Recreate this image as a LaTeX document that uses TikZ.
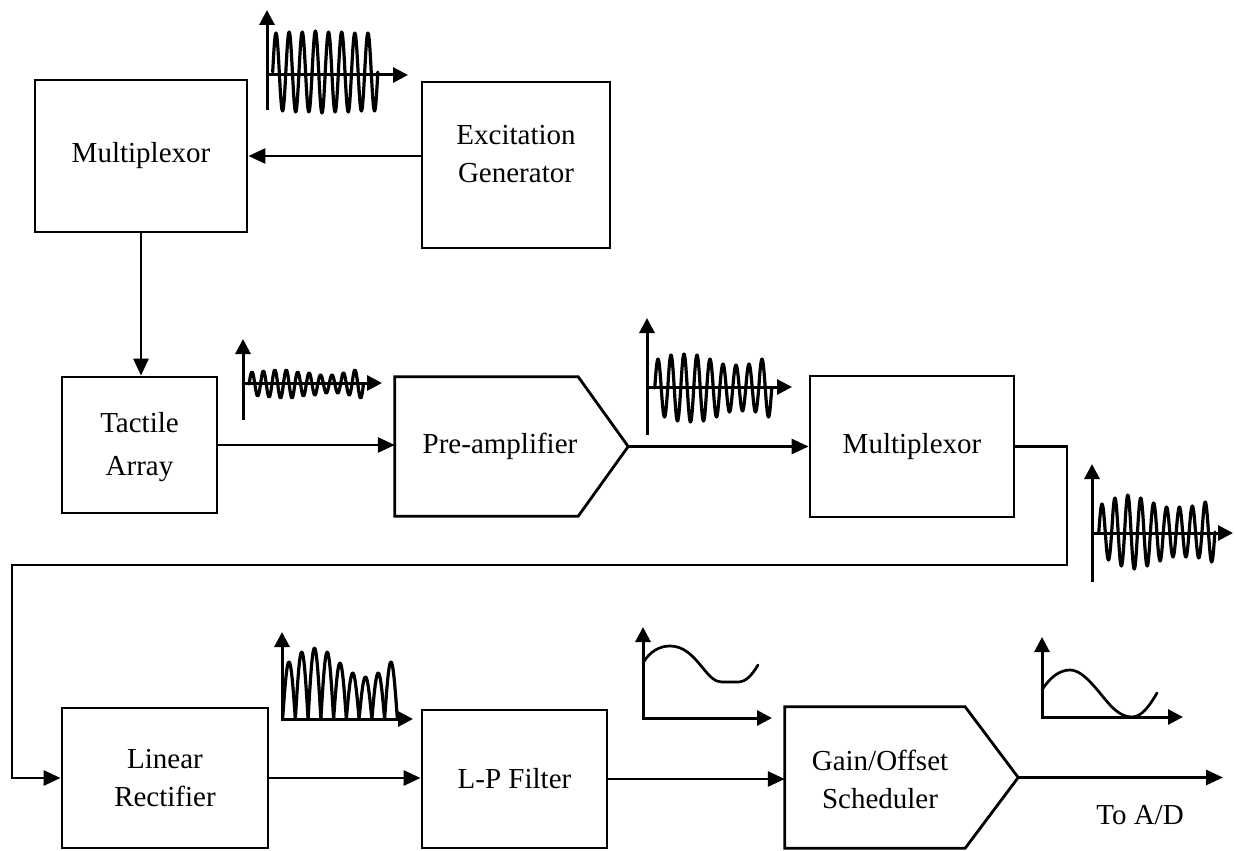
\documentclass[tikz,border=0pt]{standalone}
\usepackage{fontspec}
\setmainfont{Liberation Serif}
\usetikzlibrary{arrows.meta,calc}
\begin{document}
\begin{tikzpicture}[x=1pt,y=-1pt,
  box/.style={draw, line width=2.8pt, inner sep=0pt, align=center, font=\fontsize{29}{38}\selectfont},
  body/.style={inner sep=0pt, align=center, font=\fontsize{29}{38}\selectfont},
  lbl/.style={inner sep=0pt, align=center, font=\fontsize{29}{38}\selectfont},
  outline/.style={line width=2.8pt, line join=miter},
  arr/.style={line width=2.8pt, -{Triangle[length=17pt,width=15pt]}},
  ax/.style={line width=3pt, -{Triangle[length=15pt,width=15pt]}},
  axx/.style={line width=3pt, {Triangle[length=15pt,width=15pt]}-{Triangle[length=15pt,width=15pt]}},
  wave/.style={line width=3.2pt, line cap=round, line join=round},
  curve/.style={line width=2.7pt, line cap=round, line join=round}]
\useasboundingbox (0,0) rectangle (1235,851);

% blocks
\node[box, minimum width=212pt, minimum height=152pt] (mux1) at (141,156) {Multiplexor};
\node[box, minimum width=188pt, minimum height=166pt] (exc) at (516,165) {};
\node[lbl] (exctxt) at (516,154) {Excitation\\Generator};
\node[box, minimum width=155pt, minimum height=136pt] (tact) at (139.5,445) {};
\node[lbl] (tacttxt) at (139.5,447) {Tactile\\[5pt]Array};
\node[body, minimum width=183pt, minimum height=139pt] (pre) at (486.5,446.5) {};
\coordinate (pretip) at ($(pre.east)+(50,0)$);
\draw[outline] (pre.north west) -- (pre.north east) -- (pretip) -- (pre.south east) -- (pre.south west) -- cycle;
\node[lbl] (pretxt) at (500,446.5) {Pre-amplifier};
\node[box, minimum width=204pt, minimum height=141pt] (mux2) at (912,446.5) {Multiplexor};
\node[box, minimum width=206pt, minimum height=140pt] (lin) at (165,778) {Linear\\Rectifier};
\node[box, minimum width=185pt, minimum height=138pt] (lp) at (514.5,779) {L-P Filter};
\node[body, minimum width=180pt, minimum height=141pt] (gain) at (875,777.5) {};
\node[lbl] (gaintxt) at (880,779) {Gain/Offset\\Scheduler};
\coordinate (gaintip) at ($(gain.east)+(53,0)$);
\draw[outline] (gain.north west) -- (gain.north east) -- (gaintip) -- (gain.south east) -- (gain.south west) -- cycle;

% connectors
\draw[arr] (exc.west |- mux1.east) -- (mux1.east);
\draw[arr] (mux1.south) -- (mux1.south |- tact.north);
\draw[arr] (tact.east) -- (tact.east -| pre.west);
\draw[arr] (pretip) -- (mux2.west);
\coordinate (c1) at (1067,565);
\coordinate (c2) at (12,565);
\draw[arr, line join=miter] (mux2.east) -| (c1) -- (c2) |- (lin.west);
\draw[arr] (lin.east) -- (lin.east -| lp.west);
\draw[arr] (lp.east) -- (lp.east -| gain.west);
\coordinate (out) at (1223,777.5);
\draw[arr] (gaintip) -- (out);
\node[lbl] (toad) at (1140,815) {To A/D};

% waveform 1 (excitation)
\draw[ax] (267,110) -- (267,10);
\draw[ax] (267,75) -- (408,75);
\foreach \a [count=\i from 0] in {39,40,40,41,40,40,39,39} {
  \draw[wave] plot[domain=0:1, samples=25, smooth] ({272.7+13.14*(\i+\x)}, {72-\a*sin(360*\x)});
}

% waveform 2 (tactile array output)
\draw[ax] (243,420) -- (243,339);
\draw[ax] (243,383) -- (382,383);
\foreach \a [count=\i from 0] in {12,13,14,14,12,11,9,9,11,14} {
  \draw[wave] plot[domain=0:1, samples=25, smooth] ({249.1+11.44*(\i+\x)}, {384-\a*sin(360*\x)});
}

% waveform 3 (pre-amplifier output)
\draw[ax] (647,435) -- (647,318);
\draw[ax] (647,387) -- (792,387);
\foreach \a [count=\i from 0] in {29,33,34,33,29,24,23,24,29} {
  \draw[wave] plot[domain=0:1, samples=25, smooth] ({654.75+13*(\i+\x)}, {388-\a*sin(360*\x)});
}

% waveform 4 (multiplexor output)
\draw[ax] (1092,582) -- (1092,464);
\draw[ax] (1092,533) -- (1233,533);
\foreach \a [count=\i from 0] in {28,34,37,34,29,25,25,26,30} {
  \draw[wave] plot[domain=0:1, samples=25, smooth] ({1098.8+12.9*(\i+\x)}, {532-\a*sin(360*\x)});
}

% waveform 5 (rectified)
\foreach \h [count=\i from 0] in {57,67,71,67,56,46,42,46,57} {
  \draw[wave] plot[domain=0:1, samples=20, smooth] ({282.6+12.75*(\i+\x)}, {719-\h*sin(180*\x)});
}
\draw[axx, line join=miter] (282,632) -- (282,719) -- (413,719);

% waveform 6 (filtered)
\draw[axx, line join=miter] (643,627) -- (643,718) -- (772,718);
\draw[curve] (643,663) .. controls (650,651) and (660,646) .. (670,646)
  .. controls (684,646) and (693,656) .. (702,667)
  .. controls (710,677) and (715,682) .. (722,682) -- (738,682)
  .. controls (746,682) and (752,675) .. (758,665);

% waveform 7 (scheduled)
\draw[axx, line join=miter] (1042,637) -- (1042,717) -- (1183,717);
\draw[curve] (1042,690) .. controls (1050,677) and (1060,670) .. (1070,670)
  .. controls (1085,670) and (1100,695) .. (1112,707)
  .. controls (1120,715) and (1127,717) .. (1132,717)
  .. controls (1142,717) and (1150,705) .. (1157,693);
\end{tikzpicture}
\end{document}
